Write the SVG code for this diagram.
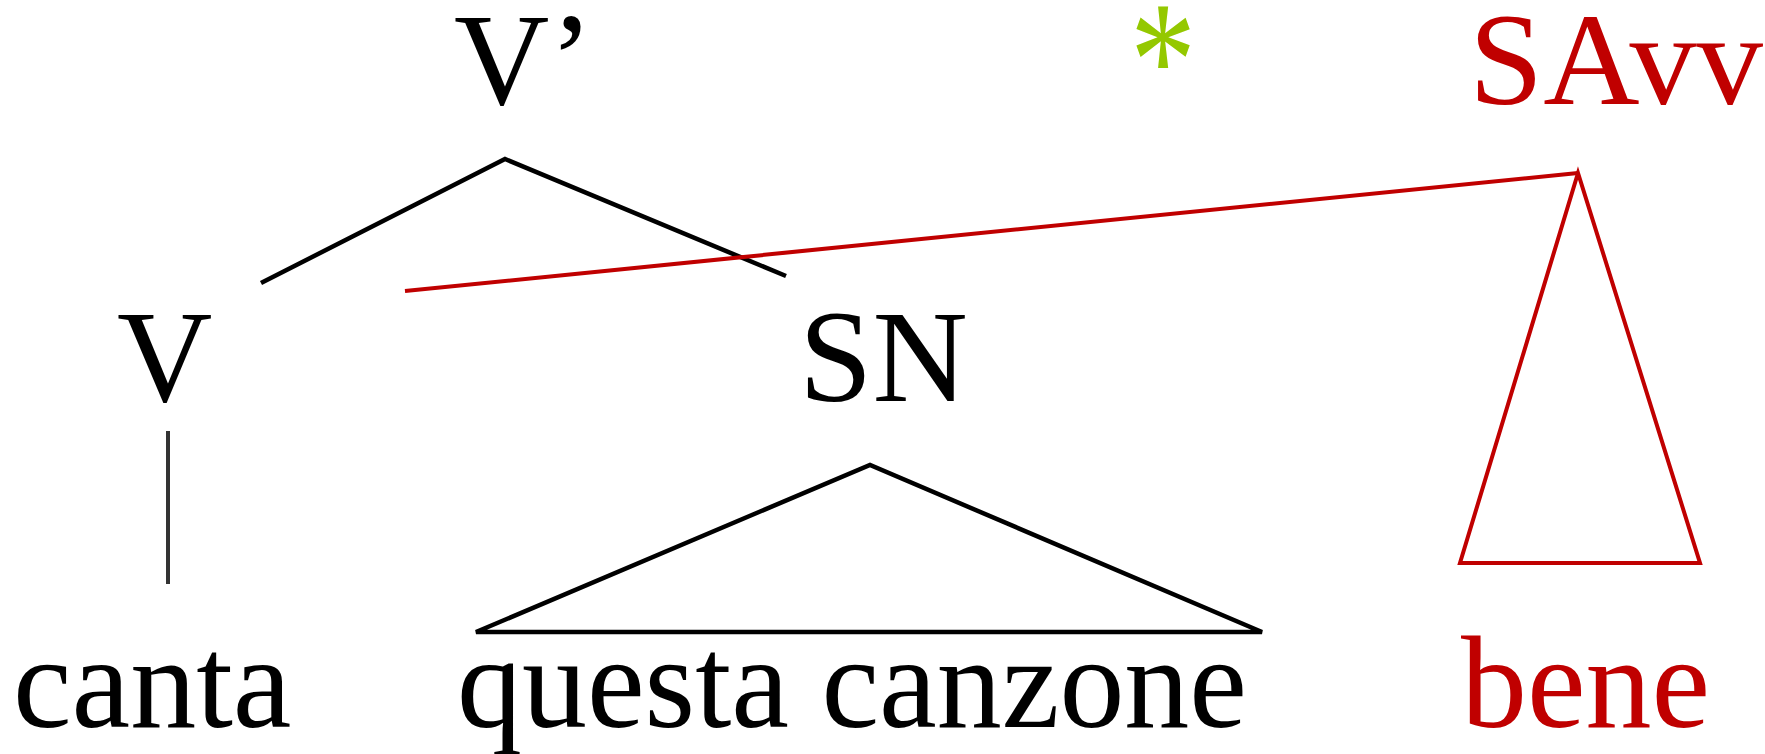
<svg xmlns="http://www.w3.org/2000/svg" width="1765" height="754" viewBox="0 0 1765 754">
<style>
.t{font-family:"Liberation Serif","Times New Roman",serif;font-size:132px;fill:#000}
.r{fill:#c00000}
.ln{stroke:#000;stroke-width:4.5;fill:none;stroke-linejoin:miter}
.rl{stroke:#c00000;stroke-width:4;fill:none}
</style>
<rect width="1765" height="754" fill="#fff"/>
<g id="connectors">
<polyline class="ln" points="261,283 505,159 786,276"/>
<line x1="168" y1="431" x2="168" y2="584" stroke="#333" stroke-width="4"/>
<polygon class="ln" points="476,632 870,465 1262,632"/>
<line class="rl" x1="405" y1="291" x2="1578" y2="173"/>
<polygon class="rl" points="1578,173 1460,563 1700,563"/>
</g>
<g id="node-vbar"><text class="t" x="454" y="104">V’</text></g>
<g id="node-star"><text x="1163" y="91" text-anchor="middle" transform="scale(1,1.27)" style="font-family:'Liberation Serif',serif;font-size:132px;fill:#94c800">*</text></g>
<g id="node-savv"><text class="t r" x="1469" y="104" textLength="294" lengthAdjust="spacingAndGlyphs">SAvv</text></g>
<g id="node-v"><text class="t" x="117" y="401">V</text></g>
<g id="node-sn"><text class="t" x="799" y="401">SN</text></g>
<g id="node-canta"><text class="t" x="13" y="727">canta</text></g>
<g id="node-questa"><text class="t" x="457" y="727" textLength="790" lengthAdjust="spacingAndGlyphs">questa canzone</text></g>
<g id="node-bene"><text class="t r" x="1461" y="727">bene</text></g>
</svg>
